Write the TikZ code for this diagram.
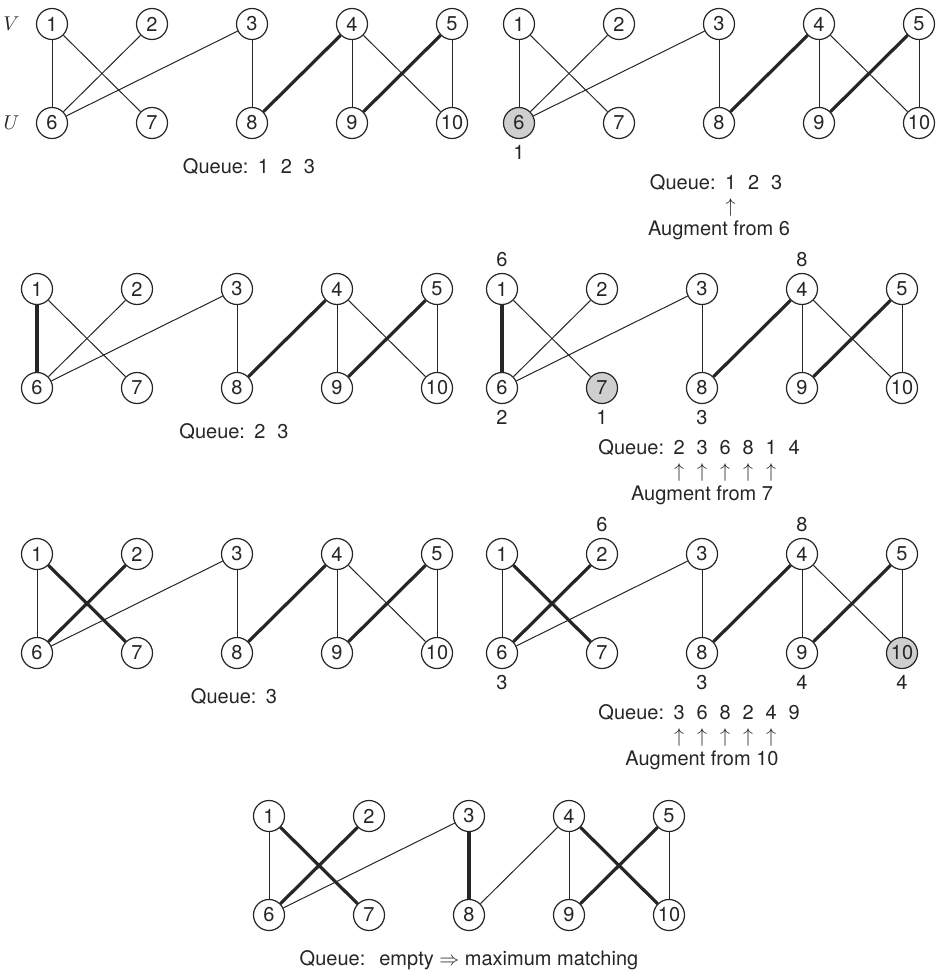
\documentclass[tikz,border=0pt]{standalone}
\usepackage{fontspec}
\setmainfont{TeX Gyre Heros}
\usepackage{tikz}
\usetikzlibrary{positioning}

\colorlet{ink}{black!85}
\colorlet{visited}{black!19}

\newcommand{\qi}[1]{\makebox[11.5pt]{#1}}
\newcommand{\qarrow}{\qi{$\uparrow$}}
\newcommand{\qhead}{Queue:\hspace{1.75pt}}
\newcommand{\qskip}{\phantom{Queue:}\hspace{1.75pt}}

\newcommand{\matchgraph}[5]{%
  \foreach \i in {1,...,10}{%
    \ifnum\i=#4\relax \colorlet{vfill}{visited}\else \colorlet{vfill}{white}\fi
    \ifnum\i<6\relax
      \node[vertex, fill=vfill] (#1\i) at ({#2+100*(\i-1)}, #3) {\i};
    \else
      \node[vertex, fill=vfill] (#1\i) at ({#2+100*(\i-6)}, {#3+99}) {\i};
    \fi
  }
  \foreach \a/\b in {1/6,1/7,2/6,3/6,3/8,4/8,4/9,4/10,5/9,5/10}
    \draw[edge] (#1\a) -- (#1\b);
  \foreach \a/\b in {#5}
    \draw[matched] (#1\a) -- (#1\b);
}

\begin{document}
\begin{tikzpicture}[
  x=0.5pt, y=-0.5pt,
  vertex/.style={draw=ink, circle, line width=0.6pt, minimum size=15.5pt, inner sep=0pt, text=ink},
  edge/.style={draw=ink, line width=0.5pt},
  matched/.style={draw=ink, line width=1.6pt},
  order/.style={inner sep=0pt, text=ink},
  queue/.style={align=center, inner sep=0pt, text=ink, font=\fontsize{10pt}{11.5pt}\selectfont},
  side/.style={inner sep=0pt, text=ink}
]
\useasboundingbox (0,0) rectangle (940,973);

\matchgraph{a}{52}{24}{0}{4/8,5/9}
\node[side, left=8pt of a1] (vside) {$V$};
\node[side, left=8pt of a6] (uside) {$U$};
\node[queue, below=9.5pt of a8] (qa) {\qhead\qi{1}\qi{2}\qi{3}};

\matchgraph{b}{519}{24}{6}{4/8,5/9}
\node[order, below=3pt of b6] (b6o) {1};
\node[queue, below=17.5pt of b8] (qb) {\qhead\qi{1}\qi{2}\qi{3}\\\qskip\qarrow\qi{}\qi{}\\Augment from 6};

\matchgraph{c}{37}{289}{0}{1/6,4/8,5/9}
\node[queue, below=9.5pt of c8] (qc) {\qhead\qi{2}\qi{3}};

\matchgraph{d}{502}{289}{7}{1/6,4/8,5/9}
\node[order, above=3pt of d1] (d1o) {6};
\node[order, above=3pt of d4] (d4o) {8};
\node[order, below=3pt of d6] (d6o) {2};
\node[order, below=3pt of d7] (d7o) {1};
\node[order, below=3pt of d8] (d8o) {3};
\node[queue, below=17.5pt of d8] (qd) {\qhead\qi{2}\qi{3}\qi{6}\qi{8}\qi{1}\qi{4}\\\qskip\qarrow\qarrow\qarrow\qarrow\qarrow\qi{}\\Augment from 7};

\matchgraph{e}{37}{554}{0}{1/7,2/6,4/8,5/9}
\node[queue, below=9.5pt of e8] (qe) {\qhead\qi{3}};

\matchgraph{f}{502}{554}{10}{1/7,2/6,4/8,5/9}
\node[order, above=3pt of f2] (f2o) {6};
\node[order, above=3pt of f4] (f4o) {8};
\node[order, below=3pt of f6] (f6o) {3};
\node[order, below=3pt of f8] (f8o) {3};
\node[order, below=3pt of f9] (f9o) {4};
\node[order, below=3pt of f10] (f10o) {4};
\node[queue, below=17.5pt of f8] (qf) {\qhead\qi{3}\qi{6}\qi{8}\qi{2}\qi{4}\qi{9}\\\qskip\qarrow\qarrow\qarrow\qarrow\qarrow\qi{}\\Augment from 10};

\matchgraph{g}{269}{816}{0}{1/7,2/6,3/8,4/10,5/9}
\node[queue, below=9.5pt of g8] (qg) {Queue:\hspace{7pt}empty $\Rightarrow$ maximum matching};
\end{tikzpicture}
\end{document}
